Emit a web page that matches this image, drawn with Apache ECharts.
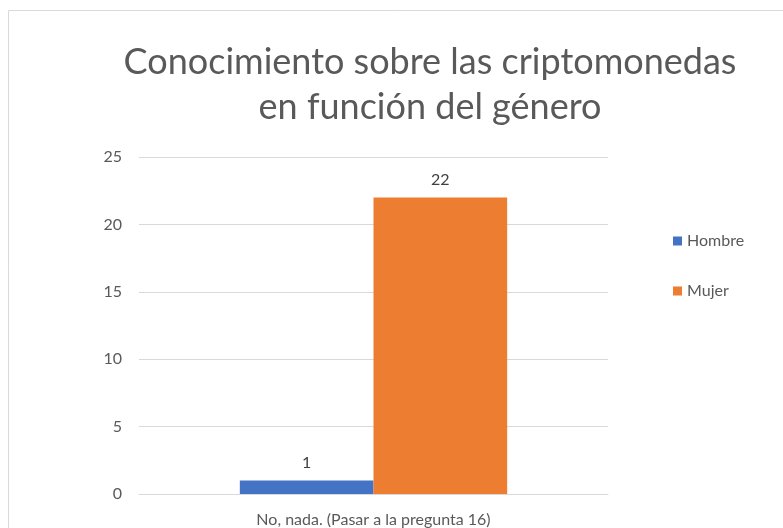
<!DOCTYPE html>
<html>
<head>
<meta charset="utf-8">
<script src="https://cdn.jsdelivr.net/npm/echarts@6/dist/echarts.min.js"></script>
<style>
  html, body { margin: 0; padding: 0; background: #fff; }
  #chart { width: 783px; height: 528px; }
</style>
</head>
<body>
<div id="chart"></div>
<script>
const categories = ['No, nada. (Pasar a la pregunta 16)'];
const hombre = [1];
const mujer = [22];
const colorList = ['#4472C4', '#ED7D31'];
const fontFamily = 'Lato, "Noto Sans", sans-serif';

const chart = echarts.init(document.getElementById('chart'));

chart.setOption({
  color: colorList,
  animation: false,
  textStyle: { fontFamily },
  // recuadro del gráfico
  graphic: [{
    type: 'rect',
    shape: { x: 8.5, y: 10.5, width: 800, height: 600 },
    style: { fill: 'none', stroke: '#d9d9d9', lineWidth: 1 },
    silent: true
  }],
  title: {
    text: 'Conocimiento sobre las criptomonedas\nen función del género',
    left: 425,
    top: 35,
    textAlign: 'center',
    textStyle: {
      color: '#595959',
      fontSize: 36,
      fontWeight: 'normal',
      lineHeight: 45,
      fontFamily
    }
  },
  legend: {
    orient: 'vertical',
    left: 668,
    top: 228,
    itemWidth: 9,
    itemHeight: 9,
    itemGap: 34,
    icon: 'rect',
    textStyle: { color: '#595959', fontSize: 16, fontFamily }
  },
  grid: { left: 139, right: 175, top: 157, bottom: 29 },
  xAxis: {
    type: 'category',
    data: categories,
    axisLine: { lineStyle: { color: '#d9d9d9' } },
    axisTick: { show: false },
    axisLabel: { color: '#595959', fontSize: 16, margin: 18, fontFamily }
  },
  yAxis: {
    type: 'value',
    min: 0,
    max: 25,
    interval: 5,
    axisLine: { show: false },
    axisTick: { show: false },
    splitLine: { lineStyle: { color: '#d9d9d9' } },
    axisLabel: { color: '#595959', fontSize: 16, margin: 17, fontFamily }
  },
  series: [
    {
      name: 'Hombre',
      type: 'bar',
      data: hombre,
      barGap: '0%',
      barCategoryGap: '43%',
      label: { show: true, position: 'top', color: '#404040', fontSize: 16, distance: 10 }
    },
    {
      name: 'Mujer',
      type: 'bar',
      data: mujer,
      label: { show: true, position: 'top', color: '#404040', fontSize: 16, distance: 10 }
    }
  ]
});
</script>
</body>
</html>
